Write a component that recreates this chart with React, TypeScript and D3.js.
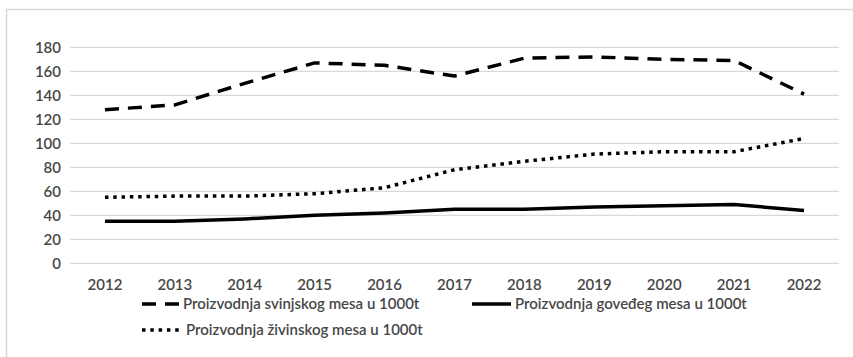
import React from "react";
import * as d3 from "d3";

const years = ["2012","2013","2014","2015","2016","2017","2018","2019","2020","2021","2022"];
const pork = [128, 132, 150, 167, 165, 156, 171, 172, 170, 169, 141];
const beef = [35, 35, 37, 40, 42, 45, 45, 47, 48, 49, 44];
const poultry = [55, 56, 56, 58, 63, 78, 85, 91, 93, 93, 104];
const yTicks = [0, 20, 40, 60, 80, 100, 120, 140, 160, 180];
const seriesNames = [
  "Proizvodnja svinjskog mesa u 1000t",
  "Proizvodnja goveđeg mesa u 1000t",
  "Proizvodnja živinskog mesa u 1000t",
];

const W = 853;
const H = 357;
const FONT = "Lato, 'Open Sans', sans-serif";
const TEXT = "#474747";

const dashStyles = [
  { dash: "14 9" },
  { dash: "" },
  { dash: "3.5 4.8" },
];

export default function App() {
  const x = d3.scaleBand<string>().domain(years).range([70, 839]);
  const y = d3.scaleLinear().domain([0, 180]).range([263.3, 47.3]);
  const cx = (d: string) => (x(d) ?? 0) + x.bandwidth() / 2;

  const line = d3
    .line<number>()
    .x((_, i) => cx(years[i]))
    .y((v) => y(v));

  const series = [pork, beef, poultry];

  const legend = [
    { x: 142, y: 304, text: seriesNames[0], style: dashStyles[0], tx: 183 },
    { x: 472, y: 304, text: seriesNames[1], style: dashStyles[1], tx: 515 },
    { x: 142, y: 330, text: seriesNames[2], style: dashStyles[2], tx: 186 },
  ];

  return (
    <svg
      width={W}
      height={H}
      style={{ position: "absolute", left: 0, top: 0, background: "#fff" }}
      fontFamily={FONT}
    >
      <rect x={6.5} y={9.5} width={1000} height={1000} fill="#fff" stroke="#d9d9d9" strokeWidth={1.5} />
      {yTicks.map((t) => (
        <g key={t}>
          <line x1={70} x2={839} y1={y(t)} y2={y(t)} stroke="#d9d9d9" strokeWidth={1.2} />
          <text x={61} y={y(t)} dy="0.36em" textAnchor="end" fontSize={15} fontWeight={600} fill={TEXT}>
            {t}
          </text>
        </g>
      ))}
      {years.map((yr) => (
        <text key={yr} x={cx(yr)} y={285} dy="0.36em" textAnchor="middle" fontSize={15} fontWeight={600} fill={TEXT}>
          {yr}
        </text>
      ))}
      {series.map((s, i) => (
        <path
          key={i}
          d={line(s) ?? ""}
          fill="none"
          stroke="#000"
          strokeWidth={3.5}
          strokeDasharray={dashStyles[i].dash || undefined}
          strokeLinejoin="round"
        />
      ))}
      {legend.map((l, i) => (
        <g key={i}>
          <line
            x1={l.x}
            x2={l.x + 39}
            y1={l.y}
            y2={l.y}
            stroke="#000"
            strokeWidth={3.5}
            strokeDasharray={l.style.dash || undefined}
          />
          <text x={l.tx} y={l.y} dy="0.36em" fontSize={15} fontWeight={600} fill={TEXT}>
            {l.text}
          </text>
        </g>
      ))}
    </svg>
  );
}
